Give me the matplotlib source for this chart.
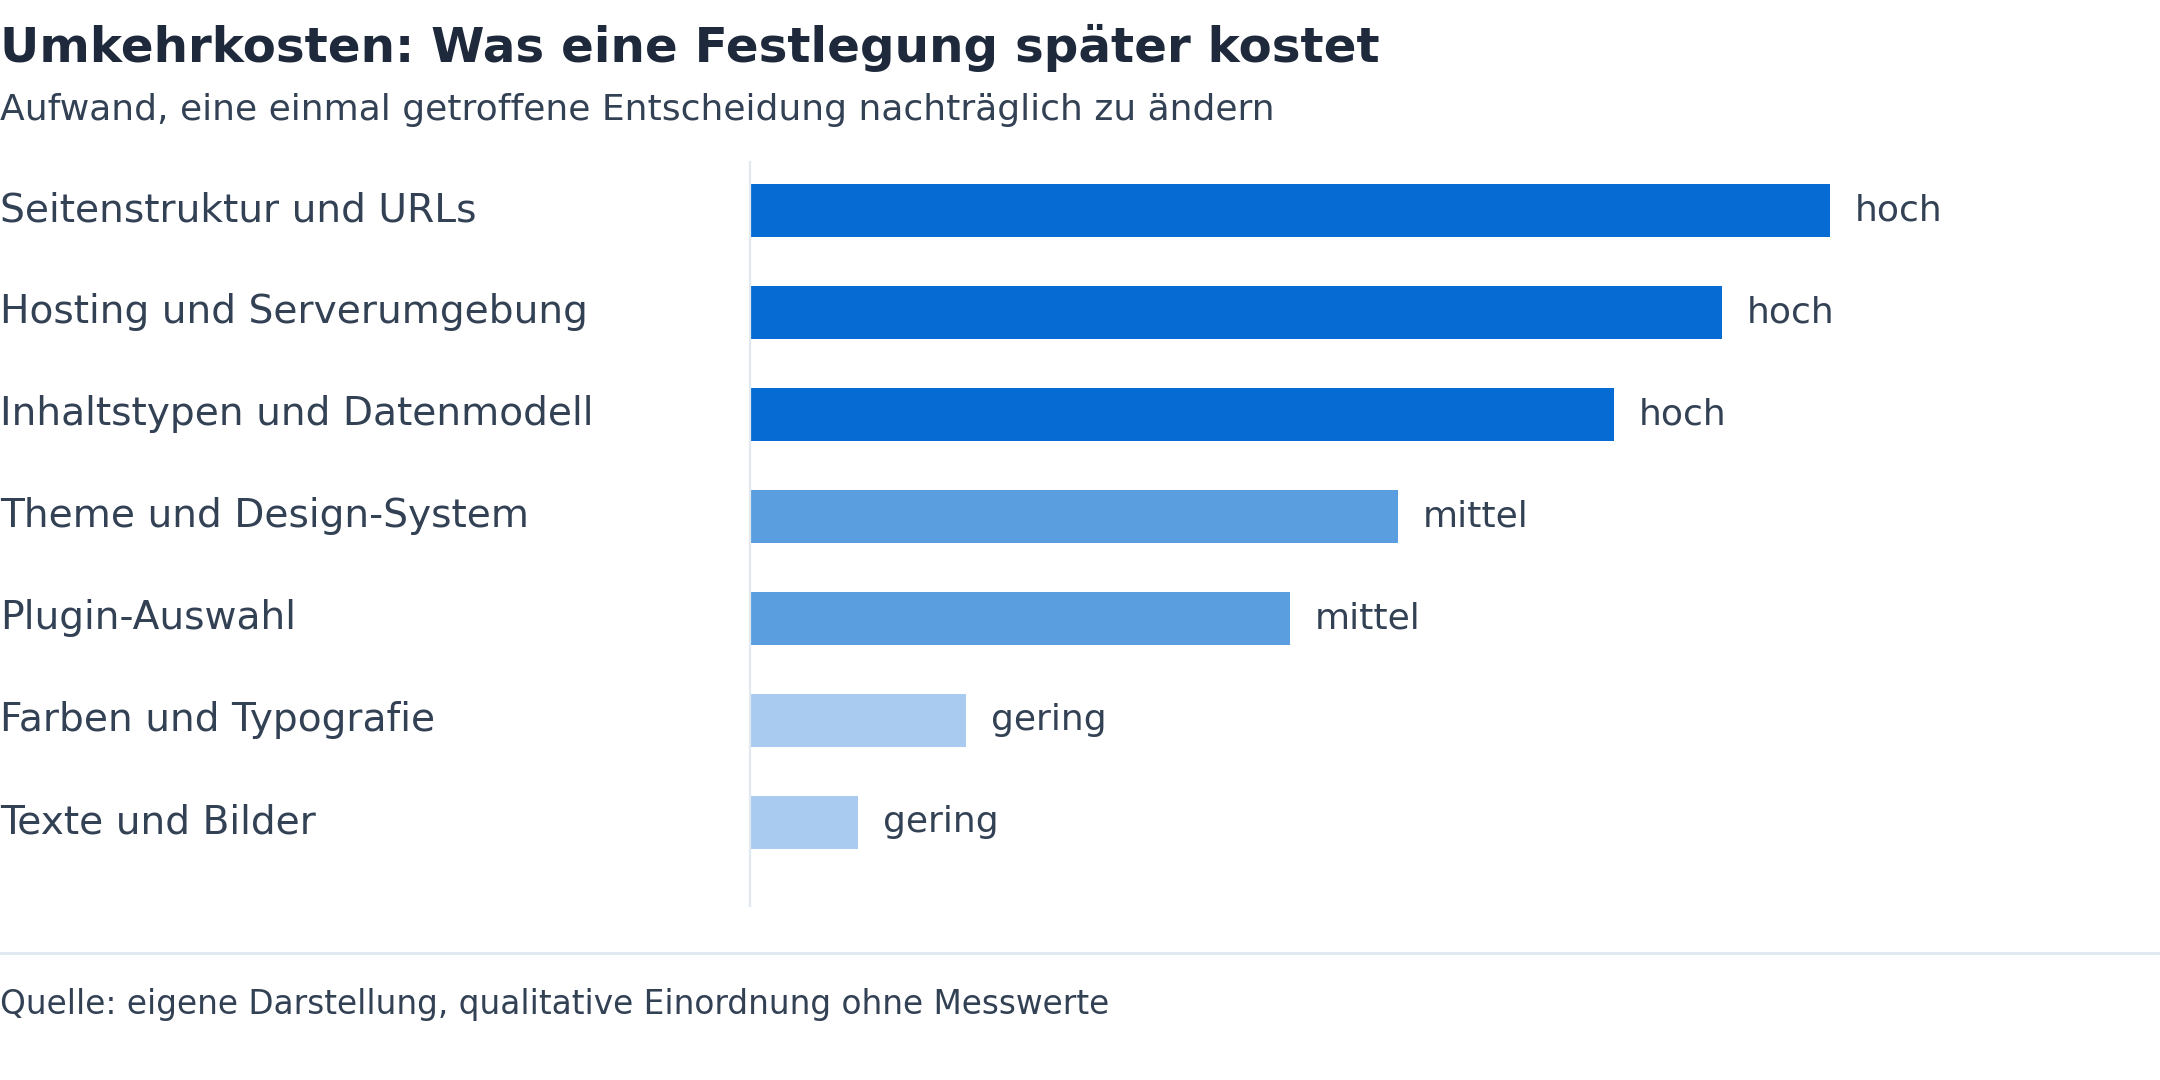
import matplotlib
matplotlib.use("Agg")
import matplotlib.pyplot as plt
import matplotlib.transforms as mtransforms
from matplotlib.lines import Line2D

categories = [
    "Seitenstruktur und URLs",
    "Hosting und Serverumgebung",
    "Inhaltstypen und Datenmodell",
    "Theme und Design-System",
    "Plugin-Auswahl",
    "Farben und Typografie",
    "Texte und Bilder",
]
values = [10, 9, 8, 6, 5, 2, 1]
levels = ["hoch", "hoch", "hoch", "mittel", "mittel", "gering", "gering"]

level_colors = {"hoch": "#066CD3", "mittel": "#5B9EE0", "gering": "#A8CBEF"}
TITLE_C = "#1E293B"
TEXT_C = "#334155"
GRID_C = "#E2E8F0"

plt.rcParams['font.family'] = ['DejaVu Sans']

fig = plt.figure(figsize=(10.8, 5.4), dpi=200)
ax = fig.add_axes([0.3470, 0.1614, 0.65, 0.6883])

y = list(range(len(categories)))
colors = [level_colors[l] for l in levels]
ax.barh(y, values, height=0.52, color=colors, zorder=2)

ax.set_xlim(0, 13)
ax.set_ylim(6.82, -0.47)

for s in ["top", "right", "bottom"]:
    ax.spines[s].set_visible(False)
ax.spines["left"].set_color(GRID_C)
ax.spines["left"].set_linewidth(0.8)
ax.set_xticks([])
ax.set_yticks([])

for yi, v, lab in zip(y, values, levels):
    ax.annotate(lab, xy=(v, yi), xytext=(9, 0), textcoords="offset points",
                va="center", ha="left", fontsize=13, color=TEXT_C)

trans = mtransforms.blended_transform_factory(fig.transFigure, ax.transData)
for yi, cat in zip(y, categories):
    ax.text(0.0, yi, cat, transform=trans, ha="left", va="center",
            fontsize=14.08, color=TEXT_C, clip_on=False)

fig.text(0.0, 0.9426, "Umkehrkosten: Was eine Festlegung später kostet",
         fontsize=17.43, fontweight="bold", color=TITLE_C, ha="left", va="baseline")
fig.text(0.0, 0.889, "Aufwand, eine einmal getroffene Entscheidung nachträglich zu ändern",
         fontsize=13, color=TEXT_C, ha="left", va="baseline")

fig.add_artist(Line2D([0, 1], [0.1176, 0.1176], transform=fig.transFigure,
                      color=GRID_C, linewidth=1.1))
fig.text(0.0, 0.0611, "Quelle: eigene Darstellung, qualitative Einordnung ohne Messwerte",
         fontsize=11.8, color=TEXT_C, ha="left", va="baseline")

fig.savefig("out.png", dpi=200, facecolor="white")
